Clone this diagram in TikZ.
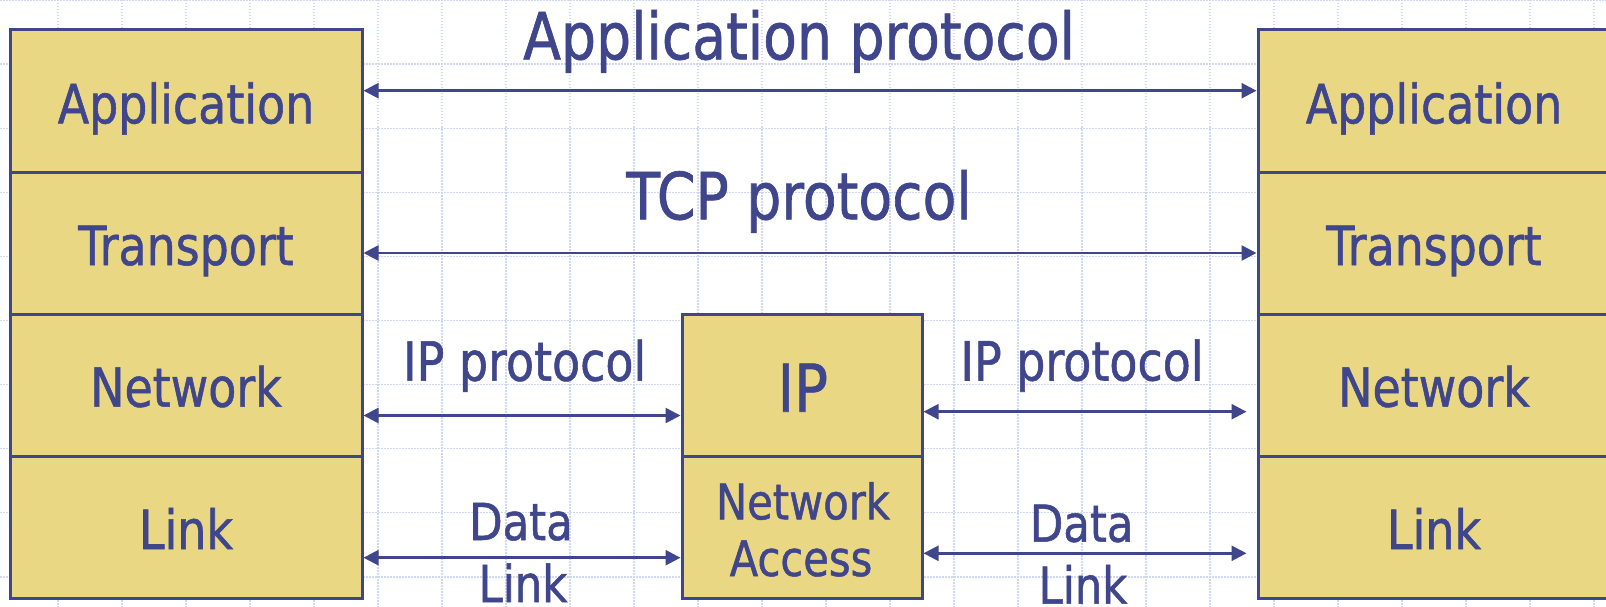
\documentclass[tikz,border=0pt]{standalone}
\usepackage{fontspec}
\setmainfont{DejaVu Sans}[FakeStretch=0.85,FakeBold=1]
\usetikzlibrary{arrows.meta}
\definecolor{ink}{RGB}{64,70,140}
\definecolor{sand}{RGB}{234,215,131}
\definecolor{gridblue}{RGB}{205,216,244}
\newcommand{\fsz}[1]{\fontsize{#1}{#1}\selectfont}
\tikzset{
  layer/.style={rectangle, draw=ink, line width=3pt, fill=sand, inner sep=0pt,
                minimum height=142pt},
  widebox/.style={layer, minimum width=352pt},
  midbox/.style={layer, minimum width=240pt},
  arr/.style={draw=ink, line width=2.5pt,
              {Triangle[length=15pt,width=15pt]}-{Triangle[length=15pt,width=15pt]}},
  lbl/.style={text=ink, anchor=base, inner sep=0pt},
  gridline/.style={draw=gridblue, line width=1.2pt, dash pattern=on 1.5pt off 1.5pt},
}
\begin{document}
\begin{tikzpicture}[x=1pt,y=-1pt]
\useasboundingbox (0,0) rectangle (1606,607);
\fill[white] (0,0) rectangle (1606,607);
% background grid
\foreach \k in {0,...,24} \draw[gridline] ({58+64*\k},0) -- ({58+64*\k},607);
\foreach \k in {0,...,9} \draw[gridline] (0,{64.1*\k}) -- (1606,{64.1*\k});
% left stack
\node[widebox] (la) at (186,101) {};
\node[widebox] (lt) at (186,243) {};
\node[widebox] (ln) at (186,385) {};
\node[widebox] (ll) at (186,527) {};
% right stack
\node[widebox] (ra) at (1434,101) {};
\node[widebox] (rt) at (1434,243) {};
\node[widebox] (rn) at (1434,385) {};
\node[widebox] (rl) at (1434,527) {};
% middle router
\node[midbox] (mi) at (802,385) {};
\node[midbox] (mn) at (802,527) {};
% box texts
\node[lbl, font=\fsz{54}] (tla) at (186,123.3) {Application};
\node[lbl, font=\fsz{54}] (tlt) at (186,265) {Transport};
\node[lbl, font=\fsz{54}] (tln) at (186,406.7) {Network};
\node[lbl, font=\fsz{54}] (tll) at (186,549) {Link};
\node[lbl, font=\fsz{54}] (tra) at (1434,123.3) {Application};
\node[lbl, font=\fsz{54}] (trt) at (1434,265) {Transport};
\node[lbl, font=\fsz{54}] (trn) at (1434,406.7) {Network};
\node[lbl, font=\fsz{54}] (trl) at (1434,549) {Link};
\node[lbl, font=\fsz{66}] (tmi) at (802.8,411.7) {IP};
\node[lbl, font=\fsz{49}] (tmn1) at (803,519.3) {Network};
\node[lbl, font=\fsz{49}] (tmn2) at (801,576) {Access};
% arrow levels
\coordinate (yApp) at (0,90.7);
\coordinate (yTcp) at (0,253);
\coordinate (yIPl) at (0,415.5);
\coordinate (yIPr) at (0,411.7);
\coordinate (yDLl) at (0,557.7);
\coordinate (yDLr) at (0,553.3);
% connectors
\draw[arr] (la.east |- yApp) -- (ra.west |- yApp);
\draw[arr] (lt.east |- yTcp) -- (rt.west |- yTcp);
\draw[arr] (ln.east |- yIPl) -- (mi.west |- yIPl);
\draw[arr] (mi.east |- yIPr) -- ([xshift=-10pt]rn.west |- yIPr);
\draw[arr] (ll.east |- yDLl) -- (mn.west |- yDLl);
\draw[arr] (mn.east |- yDLr) -- ([xshift=-10pt]rl.west |- yDLr);
% connector labels
\node[lbl, font=\fsz{65}] (lapp) at (799,59.3) {Application protocol};
\node[lbl, font=\fsz{65}] (ltcp) at (799,219.3) {TCP protocol};
\node[lbl, font=\fsz{54}] (lipl) at (524.7,380.7) {IP protocol};
\node[lbl, font=\fsz{54}] (lipr) at (1082,380.5) {IP protocol};
\node[lbl, font=\fsz{51}] (ldl1) at (521,540) {Data};
\node[lbl, font=\fsz{51}] (ldl2) at (523,602) {Link};
\node[lbl, font=\fsz{51}] (ldr1) at (1081.7,541.7) {Data};
\node[lbl, font=\fsz{51}] (ldr2) at (1083,603.7) {Link};
\end{tikzpicture}
\end{document}
